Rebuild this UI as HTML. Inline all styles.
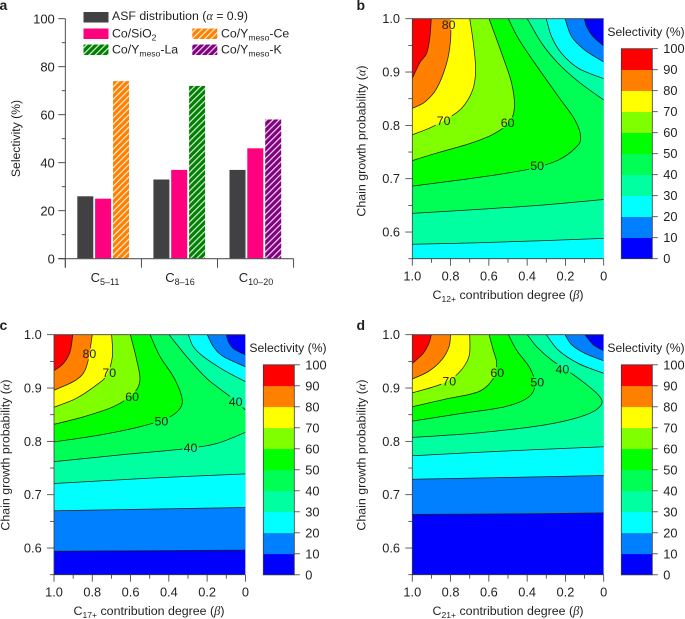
<!DOCTYPE html>
<html lang="en">
<head>
<meta charset="utf-8">
<title>Selectivity charts</title>
<style>
html,body{margin:0;padding:0;background:#fff;}
body{width:685px;height:619px;overflow:hidden;}
svg{display:block;font-family:"Liberation Sans",sans-serif;}
svg text{fill:#231f20;}
.g{font-family:"Liberation Serif",serif;font-style:italic;}
</style>
</head>
<body>
<svg id="figure" xmlns="http://www.w3.org/2000/svg" width="685" height="619" viewBox="0 0 685 619">
  <defs>
    <pattern id="hatch-orange" patternUnits="userSpaceOnUse" width="4.4" height="4.4" patternTransform="rotate(45)"><rect width="4.4" height="4.4" fill="#ff8000"/><rect width="1.2" height="4.4" fill="#fff" opacity=".85"/></pattern>
    <pattern id="hatch-green" patternUnits="userSpaceOnUse" width="4.4" height="4.4" patternTransform="rotate(45)"><rect width="4.4" height="4.4" fill="#008000"/><rect width="1.2" height="4.4" fill="#fff" opacity=".85"/></pattern>
    <pattern id="hatch-purple" patternUnits="userSpaceOnUse" width="4.4" height="4.4" patternTransform="rotate(45)"><rect width="4.4" height="4.4" fill="#800080"/><rect width="1.2" height="4.4" fill="#fff" opacity=".85"/></pattern>
  </defs>

  <text x="-0.5" y="10" font-size="14" font-weight="bold">a</text>
  <text x="356.5" y="10" font-size="14" font-weight="bold">b</text>
  <text x="-0.5" y="330" font-size="14" font-weight="bold">c</text>
  <text x="356.5" y="330" font-size="14" font-weight="bold">d</text>

  <g>
    <rect x="83.5" y="12" width="25" height="10.5" fill="#414042"/>
    <text x="112" y="20" font-size="12.3">ASF distribution (<tspan class="g">α</tspan> = 0.9)</text>
    <rect x="83.5" y="28.5" width="25" height="10.5" fill="#ff007f"/>
    <text x="112" y="37.5" font-size="12.3">Co/SiO<tspan font-size="8.6" dy="3">2</tspan></text>
    <rect x="192.3" y="28.5" width="25" height="10.5" fill="url(#hatch-orange)"/>
    <text x="221" y="37.5" font-size="12.3">Co/Y<tspan font-size="8.6" dy="3">meso</tspan><tspan dy="-3">-Ce</tspan></text>
    <rect x="83.5" y="44.5" width="25" height="10.5" fill="url(#hatch-green)"/>
    <text x="112" y="53.5" font-size="12.3">Co/Y<tspan font-size="8.6" dy="3">meso</tspan><tspan dy="-3">-La</tspan></text>
    <rect x="192.3" y="44.5" width="25" height="10.5" fill="url(#hatch-purple)"/>
    <text x="221" y="53.5" font-size="12.3">Co/Y<tspan font-size="8.6" dy="3">meso</tspan><tspan dy="-3">-K</tspan></text>
  </g>

  <text transform="translate(20,138.5) rotate(-90)" text-anchor="middle" font-size="12.2">Selectivity (%)</text>
  <text x="105" y="282" text-anchor="middle" font-size="13">C<tspan font-size="9" dy="3">5–11</tspan></text>
  <text x="180" y="282" text-anchor="middle" font-size="13">C<tspan font-size="9" dy="3">8–16</tspan></text>
  <text x="256" y="282" text-anchor="middle" font-size="13">C<tspan font-size="9" dy="3">10–20</tspan></text>

  <text x="508" y="299" text-anchor="middle" font-size="12.4">C<tspan font-size="8.6" dy="3">12+</tspan><tspan dy="-3"> contribution degree (</tspan><tspan class="g">β</tspan>)</text>
  <text x="149" y="615" text-anchor="middle" font-size="12.4">C<tspan font-size="8.6" dy="3">17+</tspan><tspan dy="-3"> contribution degree (</tspan><tspan class="g">β</tspan>)</text>
  <text x="508" y="615" text-anchor="middle" font-size="12.4">C<tspan font-size="8.6" dy="3">21+</tspan><tspan dy="-3"> contribution degree (</tspan><tspan class="g">β</tspan>)</text>
  <text transform="translate(365.5,141) rotate(-90)" text-anchor="middle" font-size="12.4">Chain growth probability (<tspan class="g">α</tspan>)</text>
  <text transform="translate(9.5,455) rotate(-90)" text-anchor="middle" font-size="12.4">Chain growth probability (<tspan class="g">α</tspan>)</text>
  <text transform="translate(365.5,455) rotate(-90)" text-anchor="middle" font-size="12.4">Chain growth probability (<tspan class="g">α</tspan>)</text>
  <text x="646" y="36" text-anchor="middle" font-size="12.2">Selectivity (%)</text>
  <text x="288" y="352" text-anchor="middle" font-size="12.2">Selectivity (%)</text>
  <text x="646" y="352" text-anchor="middle" font-size="12.2">Selectivity (%)</text>
</svg>

<script>
// ---------- bar chart data ----------
const barCategories = ["C5-11", "C8-16", "C10-20"];
const asfValues = [26, 33, 37];
const sio2Values = [25, 37, 46];
const promotedValues = [74, 72, 58];
const promotedFills = ["url(#hatch-orange)", "url(#hatch-green)", "url(#hatch-purple)"];
const barYTicks = [0, 20, 40, 60, 80, 100];
const barYMinorTicks = [10, 30, 50, 70, 90];

// ---------- contour data: [beta, alpha] points ----------
const contourLevels = [10, 20, 30, 40, 50, 60, 70, 80, 90];
const bandColors = ["#0000ff", "#0080ff", "#00ffff", "#00ffa0", "#00ff55", "#00ff00", "#80ff00", "#ffff00", "#ff8000", "#ff0000"];
const colorbarTicks = [0, 10, 20, 30, 40, 50, 60, 70, 80, 90, 100];
const betaTicks = [1, 0.8, 0.6, 0.4, 0.2, 0];
const betaTickLabels = ["1.0", "0.8", "0.6", "0.4", "0.2", "0"];
const betaMinorTicks = [0.9, 0.7, 0.5, 0.3, 0.1];
const alphaTicks = [1, 0.9, 0.8, 0.7, 0.6];
const alphaTickLabels = ["1.0", "0.9", "0.8", "0.7", "0.6"];
const alphaMinorTicks = [0.95, 0.85, 0.75, 0.65, 0.55];

const panelBLower = [
  null,
  null,
  [[1,.577],[.655,.58],[.307,.584],[0,.588]],
  [[1,.635],[.655,.6425],[.307,.651],[0,.661]],
  [[1,.686],[.829,.694],[.568,.707],[.376,.719],[.237,.735],[.15,.757],[.12,.776],[.15,.81],[.237,.854],[.359,.916],[.446,.963],[.498,1]],
  [[1,.734],[.864,.749],[.707,.765],[.585,.782],[.498,.804],[.467,.832],[.481,.879],[.533,.935],[.599,1]],
  [[1,.7825],[.916,.794],[.829,.81],[.742,.832],[.685,.866],[.669,.904],[.681,.954],[.7,1]],
  [[1,.832],[.934,.844],[.873,.869],[.821,.916],[.8,.96],[.8,1]],
  [[1,.888],[.96,.918],[.925,.935],[.908,.966],[.901,1]]
];
const panelBUpper = [
  [[0,.949],[.054,.966],[.089,.985],[.101,1]],
  [[0,.919],[.098,.941],[.167,.966],[.202,1]],
  [[0,.8875],[.132,.907],[.22,.935],[.272,.966],[.3,1]],
  [[0,.8475],[.132,.882],[.237,.916],[.324,.954],[.399,1]],
  null, null, null, null, null
];
const panelBLabelText = [80, 70, 60, 50];
const panelBLabelBeta = [.81, .836, .502, .348];
const panelBLabelAlpha = [.989, .809, .805, .724];

const panelCLower = [
  [[1,.594],[.498,.595],[0,.596]],
  [[1,.67],[.498,.673],[0,.676]],
  [[1,.721],[.498,.731],[0,.739]],
  [[1,.762],[.672,.774],[.324,.786],[.15,.796],[0,.817]],
  [[1,.799],[.76,.812],[.551,.8275],[.411,.843],[.341,.862],[.333,.884],[.376,.921],[.446,.959],[.498,1]],
  [[1,.832],[.847,.846],[.69,.865],[.585,.89],[.551,.915],[.568,.9525],[.601,1]],
  [[1,.864],[.882,.881],[.777,.906],[.725,.924],[.695,.959],[.699,1]],
  [[1,.896],[.899,.912],[.847,.9275],[.821,.9525],[.8,1]],
  [[1,.9325],[.951,.946],[.916,.968],[.902,1]]
];
const panelCUpper = [
  [[0,.962],[.063,.974],[.089,.987],[.099,1]],
  [[0,.94],[.115,.959],[.167,.9775],[.199,1]],
  [[0,.912],[.115,.934],[.22,.959],[.272,.9775],[.298,1]],
  [[0,.859],[.08,.884],[.202,.918],[.307,.959],[.399,1]],
  null, null, null, null, null
];
const panelCLabelText = [80, 70, 60, 50, 40, 40];
const panelCLabelBeta = [.815, .711, .592, .439, .287, .051];
const panelCLabelAlpha = [.964, .929, .884, .838, .788, .874];

const panelDLower = [
  [[1,.663],[.481,.664],[0,.666]],
  [[1,.729],[.481,.7325],[0,.736]],
  [[1,.773],[.568,.781],[0,.79]],
  [[1,.8075],[.655,.816],[.307,.831],[.098,.849],[.014,.868],[.028,.887],[.132,.918],[.272,.9525],[.35,.9775],[.399,1]],
  [[1,.838],[.742,.8525],[.516,.865],[.394,.8825],[.359,.906],[.385,.937],[.455,.971],[.498,1]],
  [[1,.865],[.829,.879],[.655,.893],[.577,.918],[.559,.946],[.577,.971],[.599,1]],
  [[1,.891],[.847,.9075],[.76,.9275],[.704,.959],[.7,1]],
  [[1,.917],[.916,.931],[.847,.9525],[.808,.9775],[.8,1]],
  [[1,.946],[.943,.965],[.913,.984],[.901,1]]
];
const panelDUpper = [
  [[0,.97],[.054,.981],[.098,1]],
  [[0,.951],[.098,.965],[.167,.981],[.202,1]],
  [[0,.9275],[.132,.946],[.237,.971],[.3,1]],
  null, null, null, null, null, null
];
const panelDLabelText = [70, 60, 50, 40];
const panelDLabelBeta = [.807, .556, .347, .216];
const panelDLabelAlpha = [.913, .929, .911, .935];

// ---------- drawing ----------
const NS = "http://www.w3.org/2000/svg";
const figure = document.getElementById("figure");
const AXIS = "#3a3a3c";

function make(parent, tag, attrs, text) {
  const node = document.createElementNS(NS, tag);
  for (const k in attrs) node.setAttribute(k, attrs[k]);
  if (text !== undefined) node.textContent = text;
  parent.appendChild(node);
  return node;
}

function smooth(pts) {
  let d = "";
  for (let i = 0; i < pts.length - 1; i++) {
    const p0 = pts[Math.max(i - 1, 0)], p1 = pts[i], p2 = pts[i + 1], p3 = pts[Math.min(i + 2, pts.length - 1)];
    const c1 = [p1[0] + (p2[0] - p0[0]) / 6, p1[1] + (p2[1] - p0[1]) / 6];
    const c2 = [p2[0] - (p3[0] - p1[0]) / 6, p2[1] - (p3[1] - p1[1]) / 6];
    d += "C" + c1[0].toFixed(2) + " " + c1[1].toFixed(2) + " " + c2[0].toFixed(2) + " " + c2[1].toFixed(2) + " " + p2[0].toFixed(2) + " " + p2[1].toFixed(2);
  }
  return d;
}

// bar chart
(function drawBars() {
  const x0 = 65.3, catW = 76.1, y0 = 258.7, yH = 240;
  const yOf = v => y0 - v / 100 * yH;
  const slots = [12, 29.8, 47.7], barW = 16;
  const group = make(figure, "g", {});
  
  
  barCategories.forEach((cat, i) => {
    const left = x0 + i * catW;
    const bar1 = make(group, "rect", {x: left + slots[0], y: yOf(asfValues[i]), width: barW, height: y0 - yOf(asfValues[i]), fill: "#414042"});
    
    
    const bar2 = make(group, "rect", {x: left + slots[1], y: yOf(sio2Values[i]), width: barW, height: y0 - yOf(sio2Values[i]), fill: "#ff007f"});
    
    
    const bar3 = make(group, "rect", {x: left + slots[2], y: yOf(promotedValues[i]), width: barW, height: y0 - yOf(promotedValues[i]), fill: promotedFills[i]});
    
    
  });
  const axisY = make(group, "line", {x1: x0, x2: x0, y1: yOf(100), y2: y0 + 9, stroke: AXIS, "stroke-width": .9});
  
  
  const axisX = make(group, "line", {x1: x0 - 7, x2: x0 + 3 * catW, y1: y0, y2: y0, stroke: "#58595b", "stroke-width": 1.2});
  
  
  barYTicks.forEach(v => {
    const tick = make(group, "line", {x1: x0 - 7, x2: x0, y1: yOf(v), y2: yOf(v), stroke: AXIS, "stroke-width": .9});
    
    
    const label = make(group, "text", {x: x0 - 10.5, y: yOf(v) + 4.7, "text-anchor": "end", "font-size": 13}, String(v));
    
    
  });
  barYMinorTicks.forEach(v => {
    const tick = make(group, "line", {x1: x0 - 3.5, x2: x0, y1: yOf(v), y2: yOf(v), stroke: AXIS, "stroke-width": .9});
    
    
  });
  for (let i = 0; i <= barCategories.length; i++) {
    const tick = make(group, "line", {x1: x0 + i * catW, x2: x0 + i * catW, y1: y0, y2: y0 + 9, stroke: AXIS, "stroke-width": .9});
    
    
  }
})();

// contour panel
function drawPanel(id, left, top, lower, upper, labelText, labelBeta, labelAlpha, cbLeft, cbTop) {
  const W = 191.4, H = 240;
  const xOf = b => left + (1 - b) * W;
  const yOf = a => top + (1 - a) / 0.45 * H;
  const px = pts => pts.map(p => [xOf(p[0]), yOf(p[1])]);

  const group = make(figure, "g", {});
  
  

  const defs = make(group, "defs", {});
  const clip = make(defs, "clipPath", {id: "clip-" + id});
  make(clip, "rect", {x: left, y: top, width: W, height: H});
  const mask = make(defs, "mask", {id: "mask-" + id, maskUnits: "userSpaceOnUse", x: left - 2, y: top - 2, width: W + 4, height: H + 4});
  make(mask, "rect", {x: left - 2, y: top - 2, width: W + 4, height: H + 4, fill: "#fff"});
  labelText.forEach((t, i) => {
    make(mask, "rect", {x: xOf(labelBeta[i]) - 8, y: yOf(labelAlpha[i]) - 5.5, width: 16, height: 11, fill: "#000"});
  });

  const fills = make(group, "g", {"clip-path": "url(#clip-" + id + ")"});
  
  
  const base = make(fills, "rect", {x: left, y: top, width: W, height: H, fill: bandColors[0]});
  
  
  contourLevels.forEach((level, i) => {
    const low = lower[i] ? px(lower[i]) : px([[1, .55], [0, .55]]);
    let d = "M" + low[0][0].toFixed(2) + " " + low[0][1].toFixed(2) + smooth(low);
    if (upper[i]) {
      const up = px(upper[i]);
      d += "L" + up[0][0].toFixed(2) + " " + up[0][1].toFixed(2) + smooth(up);
    } else if (Math.abs(low[low.length - 1][0] - xOf(0)) < 0.01) {
      d += "L" + xOf(0) + " " + yOf(1);
    }
    d += "L" + xOf(1) + " " + yOf(1) + "Z";
    const band = make(fills, "path", {d: d, fill: bandColors[i + 1]});
    
    
  });

  const lines = make(group, "g", {"clip-path": "url(#clip-" + id + ")", fill: "none", stroke: "#1a1a1a", "stroke-width": .75});
  
  
  const masked = make(lines, "g", {mask: "url(#mask-" + id + ")"});
  contourLevels.forEach((level, i) => {
    [lower[i], upper[i]].forEach(seg => {
      if (!seg) return;
      const pts = px(seg);
      const line = make(masked, "path", {d: "M" + pts[0][0].toFixed(2) + " " + pts[0][1].toFixed(2) + smooth(pts)});
      
      
    });
  });

  labelText.forEach((t, i) => {
    const label = make(group, "text", {x: xOf(labelBeta[i]), y: yOf(labelAlpha[i]) + 4.3, "text-anchor": "middle", "font-size": 12.4}, String(t));
    
    
  });

  // axes
  const frame = make(group, "path", {d: "M" + xOf(0) + " " + yOf(1) + "H" + xOf(1) + "V" + yOf(.55) + "H" + xOf(0), fill: "none", stroke: AXIS, "stroke-width": .8});
  
  
  betaTicks.forEach((b, i) => {
    const tick = make(group, "line", {x1: xOf(b), x2: xOf(b), y1: yOf(.55), y2: yOf(.55) + 7, stroke: AXIS, "stroke-width": .8});
    
    
    const label = make(group, "text", {x: xOf(b), y: yOf(.55) + 22, "text-anchor": "middle", "font-size": 12.8}, betaTickLabels[i]);
    
    
  });
  betaMinorTicks.forEach(b => {
    const tick = make(group, "line", {x1: xOf(b), x2: xOf(b), y1: yOf(.55), y2: yOf(.55) + 4, stroke: AXIS, "stroke-width": .8});
    
    
  });
  alphaTicks.forEach((a, i) => {
    const tick = make(group, "line", {x1: xOf(1) - 7, x2: xOf(1), y1: yOf(a), y2: yOf(a), stroke: AXIS, "stroke-width": .8});
    
    
    const label = make(group, "text", {x: xOf(1) - 12.3, y: yOf(a) + 4.5, "text-anchor": "end", "font-size": 12.8}, alphaTickLabels[i]);
    
    
  });
  alphaMinorTicks.forEach(a => {
    const tick = make(group, "line", {x1: xOf(1) - 4, x2: xOf(1), y1: yOf(a), y2: yOf(a), stroke: AXIS, "stroke-width": .8});
    
    
  });

  // colorbar
  const cbW = 31, cbH = 210;
  const cbY = v => cbTop + (100 - v) / 100 * cbH;
  bandColors.forEach((c, i) => {
    const v = colorbarTicks[i];
    const seg = make(group, "rect", {x: cbLeft, y: cbY(v + 10), width: cbW, height: cbY(v) - cbY(v + 10) + .3, fill: c});
    
    
  });
  const cbFrame = make(group, "rect", {x: cbLeft, y: cbTop, width: cbW, height: cbH, fill: "none", stroke: AXIS, "stroke-width": .8});
  
  
  colorbarTicks.forEach(v => {
    const tick = make(group, "line", {x1: cbLeft + cbW, x2: cbLeft + cbW + 5.5, y1: cbY(v), y2: cbY(v), stroke: AXIS, "stroke-width": .8});
    
    
    const label = make(group, "text", {x: cbLeft + cbW + 11, y: cbY(v) + 4.5, "font-size": 12.8}, String(v));
    
    
  });
}

drawPanel("b", 412.3, 18.7, panelBLower, panelBUpper, panelBLabelText, panelBLabelBeta, panelBLabelAlpha, 621.3, 48.7);
drawPanel("c", 54, 334.7, panelCLower, panelCUpper, panelCLabelText, panelCLabelBeta, panelCLabelAlpha, 263.3, 364.8);
drawPanel("d", 412.3, 334.7, panelDLower, panelDUpper, panelDLabelText, panelDLabelBeta, panelDLabelAlpha, 621.3, 364.8);
</script>
</body>
</html>
